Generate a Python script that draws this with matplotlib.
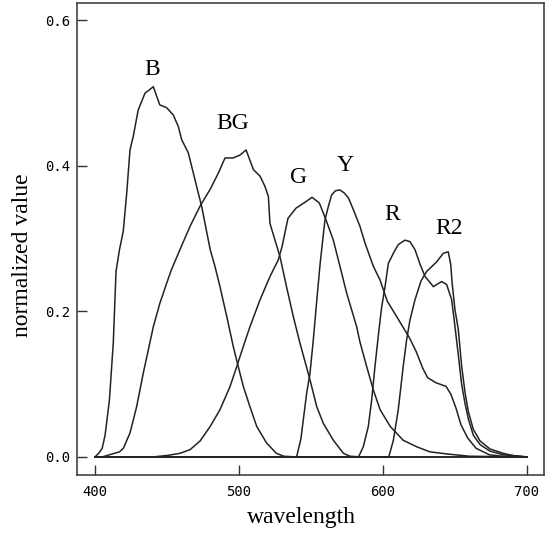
import matplotlib
matplotlib.use("Agg")
import matplotlib.pyplot as plt

# ===== data =====
b_wl = [400, 403, 405, 407, 410, 412.7, 414.6, 417, 419.6, 422, 424.3, 426.6, 430, 434.7,
        438, 440.5, 442.8, 445, 449.8, 454.4, 457.9, 460.2, 464.8, 468.3, 471.7, 474, 476.4,
        480, 483.3, 486.8, 491.5, 496, 499.5, 503, 507.6, 512.3, 519.2, 526, 531, 540, 700]
b_val = [0, 0.006, 0.012, 0.03, 0.078, 0.157, 0.255, 0.285, 0.31, 0.362, 0.422, 0.441, 0.477,
         0.500, 0.505, 0.509, 0.496, 0.484, 0.480, 0.470, 0.454, 0.436, 0.418, 0.390, 0.363,
         0.345, 0.321, 0.285, 0.262, 0.234, 0.193, 0.152, 0.124, 0.097, 0.069, 0.042, 0.019,
         0.005, 0.001, 0, 0]

bg_wl = [400, 405, 410, 417, 419.7, 424.3, 428.9, 433.5, 437, 440.5, 445, 449.8, 453, 459, 466,
         473, 480, 485.6, 490.3, 496, 500.7, 504.9, 510, 514.6, 518, 520.4, 521.5, 525, 528.5,
         533, 537.7, 542.4, 549.3, 554, 558.6, 565.5, 572.5, 577, 585, 700]
bg_val = [0, 0, 0.003, 0.007, 0.012, 0.033, 0.069, 0.115, 0.147, 0.179, 0.211, 0.239, 0.257,
          0.285, 0.317, 0.345, 0.368, 0.39, 0.411, 0.411, 0.415, 0.422, 0.395, 0.386, 0.372,
          0.358, 0.321, 0.298, 0.275, 0.234, 0.193, 0.156, 0.106, 0.069, 0.046, 0.023, 0.005,
          0.001, 0, 0]

g_wl = [400, 440, 450, 459, 466, 473, 480, 486.8, 493.8, 498.4, 503, 507.6, 514.6, 521.5, 527.3,
        530, 534, 539.6, 546.5, 550.7, 555.8, 560.4, 565.5, 570.1, 574.8, 581.7, 584, 588.7,
        593.3, 598, 605, 614, 623.4, 632.6, 645, 660, 700]
g_val = [0, 0, 0.002, 0.005, 0.01, 0.022, 0.042, 0.065, 0.097, 0.124, 0.152, 0.179, 0.216, 0.248,
         0.271, 0.29, 0.328, 0.342, 0.351, 0.357, 0.349, 0.326, 0.298, 0.262, 0.225, 0.179,
         0.158, 0.124, 0.092, 0.065, 0.042, 0.023, 0.014, 0.007, 0.004, 0.001, 0]

y_wl = [400, 540, 543, 547, 549.3, 551.6, 554, 556.3, 557.4, 559.7, 562, 564.3, 567, 570.1, 573,
        576, 579.4, 584, 587.5, 593.3, 598, 603, 611.3, 618.3, 623, 627.6, 631, 636.8, 643.8,
        647.2, 650.7, 654.2, 658.8, 664.6, 673.8, 683, 700]
y_val = [0, 0, 0.025, 0.088, 0.115, 0.161, 0.215, 0.265, 0.285, 0.326, 0.344, 0.360, 0.366,
         0.367, 0.363, 0.356, 0.34, 0.317, 0.294, 0.262, 0.243, 0.214, 0.187, 0.164, 0.145,
         0.122, 0.109, 0.102, 0.097, 0.086, 0.067, 0.044, 0.026, 0.012, 0.003, 0.001, 0]

r_wl = [400, 583, 586.3, 589.8, 592.1, 594.4, 596.7, 599, 601.4, 603.7, 607.2, 610.6, 615.3,
        618.7, 622.2, 625.7, 629.2, 632.6, 635, 638, 640.7, 644.2, 647.7, 650, 652.3, 654.6,
        657, 659.3, 662.7, 667.4, 674.3, 683.5, 695, 700]
r_val = [0, 0, 0.014, 0.042, 0.078, 0.124, 0.166, 0.205, 0.234, 0.266, 0.28, 0.292, 0.298,
         0.296, 0.285, 0.265, 0.248, 0.240, 0.234, 0.238, 0.241, 0.237, 0.216, 0.179, 0.14,
         0.1, 0.073, 0.052, 0.03, 0.017, 0.008, 0.003, 0.001, 0]

r2_wl = [400, 604, 607.2, 610.6, 614, 616.4, 618.7, 622.2, 626.4, 630.3, 634, 637.2, 641.9,
         645.3, 647, 648, 650, 652.3, 654.6, 657, 659.3, 662.7, 667.4, 674.3, 683.5, 690, 700]
r2_val = [0, 0, 0.023, 0.065, 0.124, 0.161, 0.188, 0.216, 0.242, 0.255, 0.262, 0.268, 0.28,
          0.282, 0.265, 0.239, 0.202, 0.175, 0.125, 0.088, 0.062, 0.038, 0.022, 0.011, 0.005,
          0.002, 0]

curve_names = ["B", "BG", "G", "Y", "R", "R2"]
curve_wls = [b_wl, bg_wl, g_wl, y_wl, r_wl, r2_wl]
curve_vals = [b_val, bg_val, g_val, y_val, r_val, r2_val]
# label anchor (wavelength, value)
label_pos = [(439.5, 0.533), (495.8, 0.458), (541.7, 0.384), (573.6, 0.400),
             (606.2, 0.333), (645.8, 0.314)]

x_ticks = [400, 500, 600, 700]
y_ticks = [0.0, 0.2, 0.4, 0.6]

# ===== plot =====
fig = plt.figure(figsize=(5.52, 5.36), dpi=100)
ax = fig.add_axes([77 / 552, 61 / 536, 467 / 552, 472 / 536])

for wl, val in zip(curve_wls, curve_vals):
    ax.plot(wl, val, color="#222222", lw=1.1)

for name, (lx, ly) in zip(curve_names, label_pos):
    ax.text(lx, ly, name, ha="center", va="center", fontsize=17,
            family="Liberation Serif", color="black")

ax.set_xlim(387.5, 711.8)
ax.set_ylim(-0.0248, 0.624)
ax.set_xticks(x_ticks)
ax.set_yticks(y_ticks)
ax.set_xticklabels([str(t) for t in x_ticks], family="DejaVu Sans Mono", fontsize=10)
ax.set_yticklabels(["%.1f" % t for t in y_ticks], family="DejaVu Sans Mono", fontsize=10)
ax.tick_params(direction="in", length=7, width=1.0, color="#333333")
ax.tick_params(axis="x", pad=7)
ax.tick_params(axis="y", pad=5)

for sp in ax.spines.values():
    sp.set_color("#444444")
    sp.set_linewidth(1.2)

ax.set_xlabel("wavelength", family="Liberation Serif", fontsize=17)
ax.set_ylabel("normalized value", family="Liberation Serif", fontsize=17)
ax.xaxis.set_label_coords((301 - 77) / 467, -(517 - 475) / 472)
ax.yaxis.set_label_coords(-(77 - 23) / 467, (475 - 255) / 472)
ax.xaxis.label.set_va("center")
ax.yaxis.label.set_va("center")

fig.savefig("out.png", dpi=100)
